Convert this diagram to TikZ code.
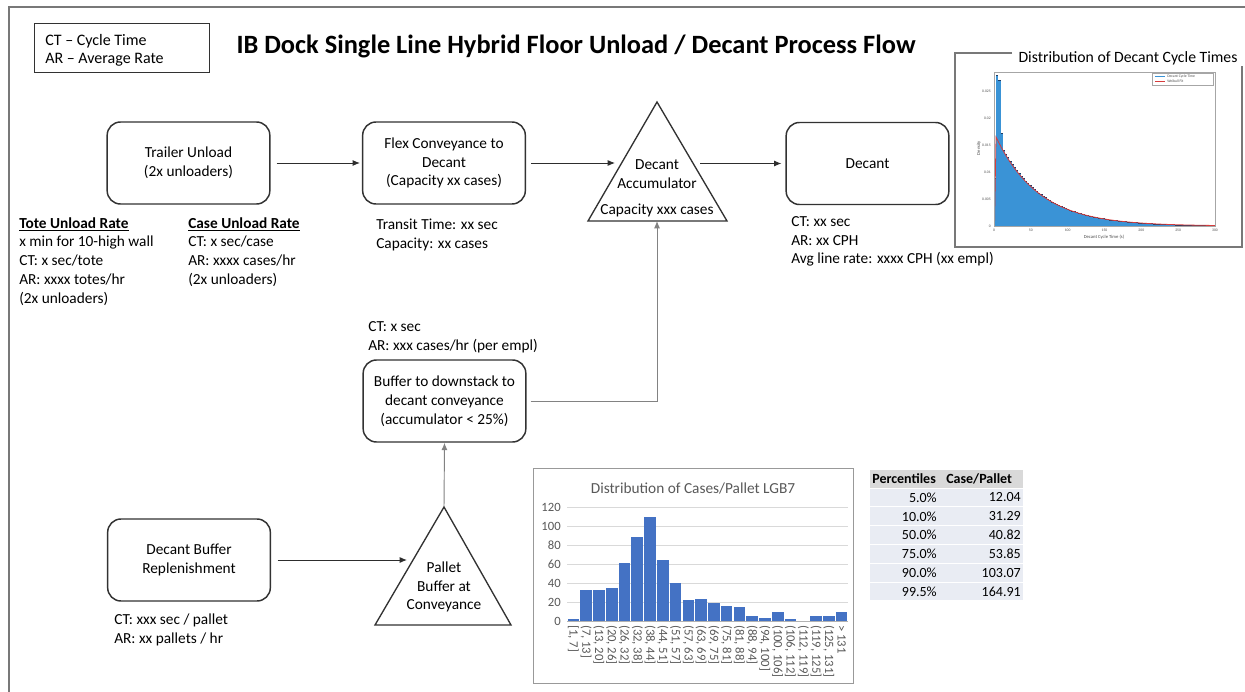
\documentclass[tikz,border=0pt]{standalone}
\usepackage{fontspec}
\setmainfont{Carlito}
\usetikzlibrary{arrows.meta,calc}

\definecolor{boxc}{RGB}{50,50,50}
\definecolor{framec}{RGB}{120,120,120}
\definecolor{arrc}{RGB}{45,45,45}
\definecolor{garc}{RGB}{130,130,130}
\definecolor{histc}{RGB}{58,147,214}
\definecolor{histedge}{RGB}{30,60,100}
\definecolor{fitc}{RGB}{215,60,60}
\definecolor{barc}{RGB}{68,114,196}
\definecolor{chartgray}{RGB}{89,89,89}
\definecolor{gridc}{RGB}{217,217,217}
\definecolor{hdrbg}{RGB}{217,217,217}
\definecolor{rowbg}{RGB}{233,236,243}

\newcommand{\bodytxt}{\fontsize{11.5}{14.1}\selectfont}

\tikzset{
  procbox/.style={draw=boxc, line width=1.1pt, rounded corners=10pt,
    minimum width=122pt, minimum height=61.5pt, align=center, font=\bodytxt, inner sep=2pt},
  txt/.style={anchor=north west, inner sep=0pt, align=left, font=\bodytxt},
  ctxt/.style={inner sep=0pt, align=center, font=\bodytxt},
  arr/.style={draw=arrc, line width=0.7pt, -{Latex[length=5.5pt,width=4.5pt]}},
  garr/.style={arr, draw=garc},
  tri/.style={draw=boxc, line width=1pt, line join=miter},
  tinylab/.style={inner sep=0pt, font=\fontsize{2.8}{3}\selectfont, text=black!70},
  axlab/.style={inner sep=0pt, font=\fontsize{9.5}{11}\selectfont, text=chartgray},
  tablab/.style={inner sep=0pt, font=\fontsize{10.5}{12}\selectfont},
}

\begin{document}
\begin{tikzpicture}[x=0.75pt,y=-0.75pt]
\useasboundingbox (0,0) rectangle (1245,692);
\fill[white] (0,0) rectangle (1245,692);

% page frame
\draw[framec, line width=1.5pt] (9,692) -- (9,7) -- (1245,7);

% legend and title
\node[draw=boxc, line width=0.9pt, anchor=north west, inner sep=0pt,
      minimum width=131.25pt, minimum height=36.75pt] (legend) at (34,23) {};
\node[txt, font=\fontsize{12}{13.5}\selectfont] (legtxt) at (45,34)
  {CT – Cycle Time\\AR – Average Rate};
\node[inner sep=0pt, font=\bfseries\fontsize{19.8}{24}\selectfont] (title) at (576,46)
  {IB Dock Single Line Hybrid Floor Unload / Decant Process Flow};

% process boxes
\node[procbox] (trailer) at (188.5,163) {Trailer Unload\\(2x unloaders)};
\node[procbox] (flex) at (444,163) {Flex Conveyance to\\Decant\\(Capacity xx cases)};
\node[procbox] (decant) at (867.5,163.5) {Decant};
\node[procbox] (buffer) at (444.5,401) {Buffer to downstack to\\decant conveyance\\(accumulator < 25\%)};
\node[procbox] (repl) at (189,560) {Decant Buffer\\Replenishment};

% annotations
\node[txt] (tote) at (19,217)
  {\textbf{\underline{Tote Unload Rate}}\\x min for 10-high wall\\CT: x sec/tote\\AR: xxxx totes/hr\\(2x unloaders)};
\node[txt] (caserate) at (188,217)
  {\textbf{\underline{Case Unload Rate}}\\CT: x sec/case\\AR: xxxx cases/hr\\(2x unloaders)};
\node[txt] (flexinfo) at (376,219) {Transit Time: xx sec\\Capacity: xx cases};
\node[txt] (decinfo) at (791,216) {CT: xx sec\\AR: xx CPH\\Avg line rate: xxxx CPH (xx empl)};
\node[txt] (bufinfo) at (368,321) {CT: x sec\\AR: xxx cases/hr (per empl)};
\node[txt] (replinfo) at (114,614) {CT: xxx sec / pallet\\AR: xx pallets / hr};

% decant accumulator
\coordinate (accA) at (657,102);
\coordinate (accL) at (588,221);
\coordinate (accR) at (727,221);
\draw[tri] (accL) -- (accA) -- (accR) -- cycle;
\node[ctxt] (acctxt) at (657,174) {Decant\\Accumulator};
\node[ctxt] (acccap) at (657,210) {Capacity xxx cases};
\coordinate (accW) at (615,163);
\coordinate (accE) at (700,163.5);
\coordinate (accB) at (657,221);

% pallet buffer
\coordinate (palA) at (444,507);
\coordinate (palL) at (375,625);
\coordinate (palR) at (511,625);
\draw[tri] (palL) -- (palA) -- (palR) -- cycle;
\node[ctxt] (paltxt) at (444,587) {Pallet\\Buffer at\\Conveyance};
\coordinate (palW) at (407,560);

% flow connectors
\draw[arr, shorten <=4.5pt, shorten >=1.5pt] (trailer.east) -- (flex.west);
\draw[arr, shorten <=3.75pt] (flex.east) -- (accW);
\draw[arr, shorten >=3pt] (accE) -- (decant.west);
\draw[garr, shorten <=3pt] (buffer.east) -- (buffer.east -| accB) -- (accB);
\draw[arr, shorten <=5pt] (repl.east) -- (palW);
\draw[garr] (palA) -- (buffer.south);

% decant cycle time histogram
\draw[framec, line width=0.8pt] (1012,53) -- (955,53) -- (955,247) -- (1242,247) -- (1242,66);
\node[inner sep=0pt, font=\fontsize{11.8}{14}\selectfont] (cyctitle) at (1128,58)
  {Distribution of Decant Cycle Times};
\foreach \i in {0,...,99}{
  \pgfmathsetmacro{\xa}{994+2.21*\i}
  \pgfmathsetmacro{\h}{\i==0 ? 48 : (\i==1 ? 151 : (\i==2 ? 146 : (\i==3 ? 93 : 89*exp(-(\xa-996)/42.7))))}
  \fill[histc] (\xa,226) rectangle ({\xa+2.21},{226-\h});
  \draw[histedge, line width=0.25pt] (\xa,{226-\h}) -- ({\xa+2.21},{226-\h});
}
\draw[fitc, line width=0.6pt] (994.5,226) -- (996,137)
  -- plot[domain=996:1215, samples=70] (\x,{226-89*exp(-(\x-996)/42.7)});
\draw[black!35, line width=0.3pt] (994,72) rectangle (1215,226);
\foreach \v [count=\k from 0] in {0,0.005,0.01,0.015,0.02,0.025}{
  \node[tinylab, anchor=east] (ytk\k) at (991,{226-27*\k}) {\v};
}
\foreach \v [count=\k from 0] in {0,50,100,150,200,250,300}{
  \node[tinylab, anchor=north] (xtk\k) at ({994+36.83*\k},229) {\v};
}
\node[tinylab, font=\fontsize{3.5}{4}\selectfont] (cycx) at (1104,237) {Decant Cycle Time (s)};
\node[tinylab, font=\fontsize{3.5}{4}\selectfont, rotate=90] (cycy) at (979,148) {Density};
\draw[black!35, line width=0.3pt, fill=white] (1152,73) rectangle (1213,85);
\draw[histc, line width=0.8pt] (1155,76.5) -- (1165,76.5);
\draw[fitc, line width=0.6pt] (1155,81.5) -- (1165,81.5);
\node[tinylab, anchor=west] (lg1) at (1167,76.5) {Decant Cycle Time};
\node[tinylab, anchor=west] (lg2) at (1167,81.5) {Weibull Fit};

% cases per pallet chart
\draw[black!40, line width=0.6pt] (533,468) rectangle (853,683);
\node[inner sep=0pt, font=\bodytxt, text=chartgray] (pltitle) at (693,488)
  {Distribution of Cases/Pallet LGB7};
\foreach \v [count=\k from 0] in {0,20,40,60,80,100,120}{
  \ifnum\k>0 \draw[gridc, line width=0.5pt] (567,{621-0.95*\v}) -- (848,{621-0.95*\v}); \fi
  \node[axlab, anchor=east] (yl\k) at (561,{621-0.95*\v}) {\v};
}
\foreach \v [count=\i from 0] in {2,33,33,35,61,88,109,64,40,22,23,19,16,15,5,3,10,2,0,5,5,10}{
  \fill[barc] ({567+12.77*\i+0.6},621) rectangle ({567+12.77*\i+12.2},{621-0.95*\v});
}
\draw[black!30, line width=0.5pt] (567,621) -- (848,621);
\foreach \lab [count=\i from 0] in {{[1, 7]},{(7, 13]},{(13, 20]},{(20, 26]},{(26, 32]},{(32, 38]},{(38, 44]},{(44, 51]},{(51, 57]},{(57, 63]},{(63, 69]},{(69, 75]},{(75, 81]},{(81, 88]},{(88, 94]},{(94, 100]},{(100, 106]},{(106, 112]},{(112, 119]},{(119, 125]},{(125, 131]},{> 131}}{
  \node[axlab, rotate=-90, anchor=west] (xl\i) at ({567+12.77*\i+6.4},625) {\lab};
}

% percentile table
\fill[hdrbg] (870,470) rectangle (1023,487.5);
\node[tablab, anchor=west] (hp) at (872,478.5) {\textbf{Percentiles}};
\node[tablab, anchor=west] (hc) at (946,478.5) {\textbf{Case/Pallet}};
\foreach \p/\c [count=\i from 0] in {5.0\%/12.04, 10.0\%/31.29, 50.0\%/40.82, 75.0\%/53.85, 90.0\%/103.07, 99.5\%/164.91}{
  \fill[rowbg] (870,{488.5+18.8*\i}) rectangle (1023,{506.3+18.8*\i});
  \node[tablab, anchor=east] (tp\i) at (937,{497.5+18.8*\i}) {\p};
  \node[tablab, anchor=east] (tc\i) at (1021,{497.5+18.8*\i}) {\c};
}
\end{tikzpicture}
\end{document}
